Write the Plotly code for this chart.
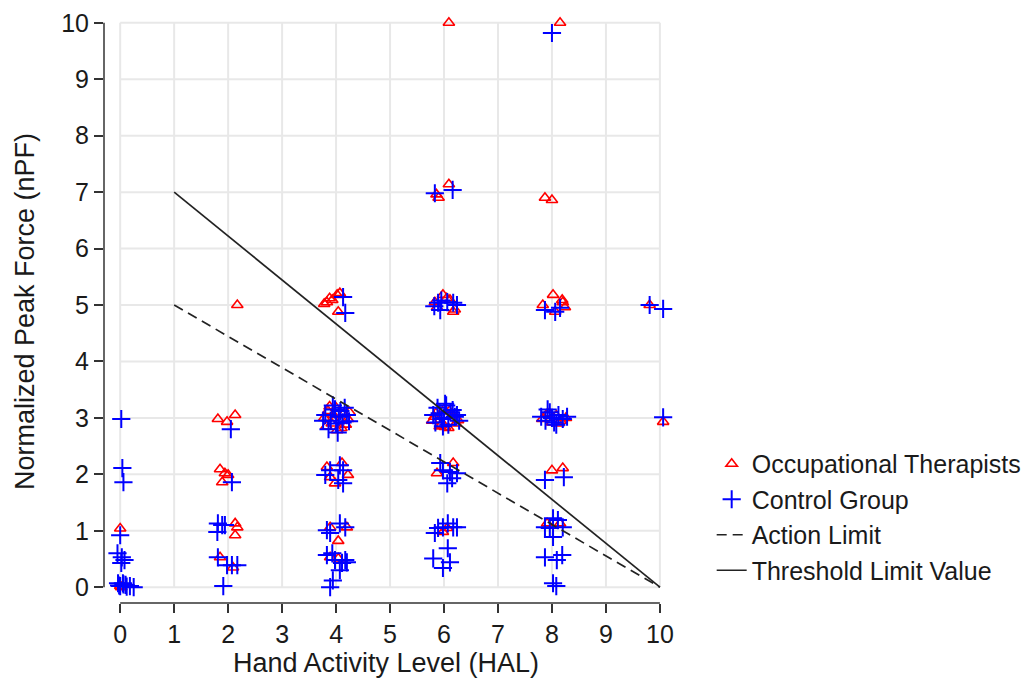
import plotly.graph_objects as go

# ---- Data (jittered positions) ----
ot_hal = [0.00, 0.00, 0.02,
          1.81, 1.98, 2.13, 1.85, 1.94, 2.00, 1.89, 2.13, 2.17, 2.13, 1.85, 2.09, 2.17,
          3.83, 3.93, 4.02, 4.07, 4.04, 3.78, 3.88,
          3.78, 3.85, 3.92, 4.00, 4.08, 4.15, 4.22, 3.82, 3.95, 4.10, 4.25, 4.02, 3.88, 4.18,
          3.83, 3.89, 3.98, 4.11, 4.22, 3.89, 4.20, 4.04, 3.89, 4.04,
          5.83, 5.98, 6.11, 6.17, 5.87, 6.05, 6.20,
          5.78, 5.85, 5.92, 6.00, 6.08, 6.15, 6.22, 5.82, 5.95, 6.10, 6.26, 6.02,
          5.87, 6.17, 5.98, 6.06,
          5.86, 5.90, 6.09, 6.09,
          7.83, 8.02, 8.19, 8.24, 8.06, 8.20,
          7.82, 7.90, 8.00, 8.08, 8.16, 8.26, 7.95, 8.12,
          8.00, 8.20, 8.15, 7.91,
          7.87, 8.00, 8.15,
          9.81, 10.06]
ot_npf = [1.04, 0.02, 0.00,
          2.98, 2.93, 3.05, 2.09, 2.02, 1.99, 1.86, 1.13, 1.06, 0.92, 0.53, 0.35, 5.00,
          5.05, 5.09, 5.18, 5.21, 4.88, 5.02, 5.12,
          3.00, 3.12, 2.90, 3.18, 2.95, 3.08, 2.98, 2.85, 3.05, 2.82, 3.10, 2.78, 3.20, 2.88,
          2.13, 1.95, 1.84, 2.20, 1.99, 1.06, 1.06, 0.82, 0.53, 0.51,
          5.05, 5.18, 5.09, 4.88, 4.96, 5.12, 4.92,
          2.95, 3.08, 2.85, 3.15, 2.82, 3.05, 2.90, 3.02, 2.88, 3.12, 2.96, 2.84,
          2.02, 2.20, 0.98, 1.05,
          6.96, 6.90, 7.14, 10.00,
          5.00, 5.18, 5.09, 4.96, 4.88, 5.05,
          2.98, 3.06, 2.92, 3.04, 2.95, 3.00, 3.08, 2.90,
          2.07, 2.11, 1.13, 1.13,
          6.90, 6.86, 10.00,
          5.00, 2.93]

cg_hal = [0.02, 0.04, 0.06, 0.00, -0.05, 0.03, 0.08, 0.02, -0.04, 0.05, 0.00, 0.10, 0.18, 0.25, -0.02,
          0.06, 0.12,
          2.05, 2.07, 1.81, 1.89, 1.94, 1.80, 1.81, 1.98, 2.07, 2.17, 1.91,
          4.13, 4.17,
          3.80, 3.90, 3.98, 4.05, 4.12, 4.20, 3.86, 4.00, 4.08, 3.94, 4.16, 3.76, 4.03, 4.24,
          3.80, 3.89, 4.07, 4.13, 4.04, 4.13,
          3.83, 3.89, 4.07, 4.17,
          3.83, 3.93, 3.98, 4.11, 4.17, 4.20, 4.07, 3.94, 3.89,
          5.89, 6.06, 6.17, 6.24, 5.93, 5.82, 5.95,
          5.80, 5.88, 5.96, 6.04, 6.12, 6.20, 6.28, 5.84, 5.92, 6.00, 6.08, 6.16, 6.24, 5.98, 6.02,
          5.93, 5.98, 6.11, 6.24, 6.06, 6.15,
          5.83, 5.89, 5.98, 6.07, 6.17, 6.24,
          6.07, 5.80, 6.11, 5.98,
          5.83, 6.16,
          7.87, 8.06, 8.15,
          7.80, 7.88, 7.96, 8.04, 8.12, 8.20, 8.28, 7.92, 8.08, 8.00,
          7.87, 8.22,
          8.02, 8.11, 7.87, 7.96, 8.20, 8.02,
          7.87, 8.09, 8.19, 8.02, 8.08,
          8.00,
          9.81, 10.06, 10.06]
cg_npf = [2.98, 2.11, 1.86, 0.92, 0.60, 0.53, 0.48, 0.43, 0.07, 0.07, 0.02, 0.04, 0.02, 0.00, 0.03,
          0.05, 0.01,
          2.80, 1.86, 1.13, 1.10, 1.10, 0.98, 0.53, 0.39, 0.39, 0.39, 0.02,
          5.14, 4.86,
          3.05, 2.95, 3.15, 3.02, 2.92, 3.05, 2.80, 2.90, 3.12, 3.22, 3.18, 2.95, 2.74, 2.94,
          1.99, 2.07, 2.16, 2.07, 1.90, 1.84,
          1.01, 0.96, 1.13, 1.06,
          0.57, 0.60, 0.48, 0.43, 0.48, 0.44, 0.30, 0.12, 0.00,
          5.04, 5.05, 5.04, 5.00, 4.91, 4.98, 5.08,
          3.05, 3.18, 2.98, 3.22, 3.10, 3.02, 2.95, 2.92, 3.08, 3.00, 2.88, 3.14, 3.05, 2.85, 3.25,
          2.20, 2.07, 2.04, 2.02, 1.84, 1.93,
          0.96, 1.05, 1.06, 1.13, 1.06, 1.06,
          0.69, 0.51, 0.44, 0.34,
          6.98, 7.04,
          4.91, 4.88, 4.95,
          3.02, 2.95, 3.10, 2.92, 3.05, 2.98, 3.02, 3.15, 2.88, 3.00,
          1.90, 1.95,
          1.22, 1.19, 1.06, 1.05, 1.06, 0.89,
          0.53, 0.48, 0.57, 0.07, 0.02,
          9.82,
          5.00, 4.93, 3.01]

action_hal = [1, 10]
action_npf = [5, 0]
tlv_hal = [1, 10]
tlv_npf = [7, 0]

tick_vals = list(range(0, 11))

FONT = "Liberation Sans, Arial, sans-serif"
TXT = "#1a1a1a"
FS = 25
FT = 27
fig = go.Figure()

# gridlines (only over 0..10 as in reference)
for v in tick_vals:
    fig.add_shape(type="line", x0=v, x1=v, y0=0, y1=10, xref="x", yref="y",
                  line=dict(color="#e8e8e8", width=2), layer="below")
    fig.add_shape(type="line", x0=0, x1=10, y0=v, y1=v, xref="x", yref="y",
                  line=dict(color="#e8e8e8", width=2), layer="below")

# axis lines spanning 0..10 at plot edges
fig.add_shape(type="line", x0=0, x1=10, y0=0, y1=0, xref="x", yref="paper",
              line=dict(color="#333333", width=1.5))
fig.add_shape(type="line", x0=0, x1=0, y0=0, y1=10, xref="paper", yref="y",
              line=dict(color="#333333", width=1.5))

fig.add_trace(go.Scatter(x=ot_hal, y=ot_npf, mode="markers", name="Occupational Therapists",
                         marker=dict(symbol="triangle-up-open", size=10, color="red",
                                     line=dict(color="red", width=1.6)),
                         cliponaxis=False))
fig.add_trace(go.Scatter(x=cg_hal, y=cg_npf, mode="markers", name="Control Group",
                         marker=dict(symbol="cross-thin-open", size=13, color="blue",
                                     line=dict(color="blue", width=2)),
                         cliponaxis=False))
fig.add_trace(go.Scatter(x=action_hal, y=action_npf, mode="lines", name="Action Limit",
                         line=dict(color="#222222", width=1.7, dash="10px,6px")))
fig.add_trace(go.Scatter(x=tlv_hal, y=tlv_npf, mode="lines", name="Threshold Limit Value",
                         line=dict(color="#222222", width=1.7)))

fig.update_layout(
    width=1024, height=680,
    margin=dict(l=104, r=356, t=20, b=77),
    plot_bgcolor="white", paper_bgcolor="white",
    font=dict(family=FONT, size=FS, color=TXT),
    showlegend=True,
    legend=dict(xref="container", yref="container", x=0.695, y=0.3515,
                xanchor="left", yanchor="top",
                font=dict(family=FONT, size=FS, color=TXT),
                bgcolor="rgba(0,0,0,0)", itemwidth=30, tracegroupgap=0),
    xaxis=dict(range=[-0.3, 10.15], tickvals=tick_vals, showgrid=False, zeroline=False,
               showline=False, ticks="outside", ticklen=9, tickwidth=1.5, tickcolor="#333333",
               automargin=False, tickfont=dict(family=FONT, size=FS, color=TXT),
               title=dict(text="Hand Activity Level (HAL)", standoff=5,
                          font=dict(family=FONT, size=FT, color=TXT))),
    yaxis=dict(range=[-0.28, 10.05], tickvals=tick_vals, showgrid=False, zeroline=False,
               showline=False, ticks="outside", ticklen=9, tickwidth=1.5, tickcolor="#333333",
               automargin=False, tickfont=dict(family=FONT, size=FS, color=TXT),
               title=dict(text="Normalized Peak Force (nPF)", standoff=18,
                          font=dict(family=FONT, size=FT, color=TXT))),
)

fig.write_html("out.html", config={"displayModeBar": False},
               post_script="document.body.style.margin='0';document.body.style.overflow='hidden';")
